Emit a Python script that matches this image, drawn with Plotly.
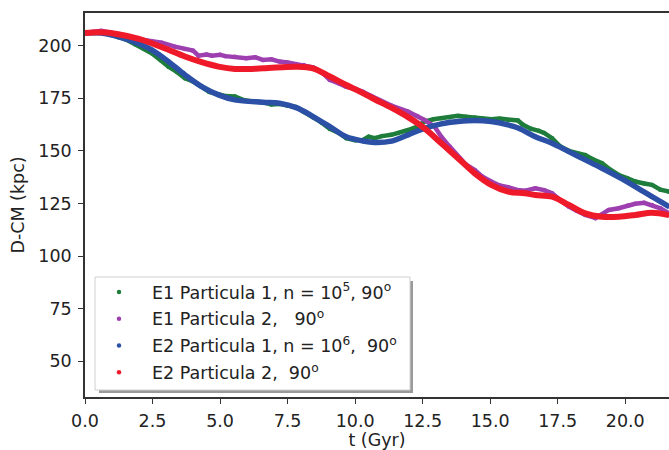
import plotly.graph_objects as go

# ---- data ----
t_e1p1 = [0, 0.4, 0.8, 1.23, 1.5, 1.85, 2.2, 2.47, 2.8, 3.09, 3.4, 3.7, 4.0, 4.32, 4.6, 4.94, 5.2, 5.55,
          5.9, 6.2, 6.59, 6.9, 7.2, 7.5, 7.82, 8.1, 8.44, 8.75, 9.06, 9.4, 9.67, 10.0, 10.29, 10.5, 10.72,
          11.0, 11.34, 11.6, 11.96, 12.3, 12.57, 12.9, 13.19, 13.5, 13.81, 14.1, 14.43, 14.7, 15.04, 15.35,
          15.66, 16.03, 16.2, 16.5, 16.8, 17.0, 17.29, 17.6, 17.91, 18.2, 18.52, 18.8, 19.14, 19.45, 19.76,
          20.07, 20.37, 20.7, 20.99, 21.3, 21.62]
d_e1p1 = [206.0, 206.5, 205.8, 204.0, 203.0, 200.7, 198.5, 196.4, 193.0, 190.0, 187.5, 184.5, 183.0, 180.5,
          178.0, 176.9, 176.0, 175.8, 174.0, 173.5, 173.0, 172.0, 172.3, 171.5, 170.8, 168.5, 166.0, 163.5,
          160.5, 158.5, 156.0, 155.0, 155.2, 156.7, 156.0, 157.0, 157.6, 158.5, 159.9, 161.5, 163.9, 165.0,
          165.5, 166.0, 166.6, 166.2, 165.8, 165.5, 165.0, 165.3, 164.7, 164.4, 162.5, 160.5, 159.5, 158.5,
          156.0, 152.0, 150.0, 148.8, 148.0, 146.0, 144.1, 141.0, 138.5, 137.0, 135.4, 134.5, 133.8, 131.5,
          130.6]

t_e1p2 = [0, 0.3, 0.6, 1.0, 1.5, 2.0, 2.47, 2.84, 3.33, 3.7, 4.0, 4.2, 4.5, 4.7, 5.0, 5.2, 5.55, 5.97, 6.3,
          6.59, 6.9, 7.2, 7.5, 7.82, 8.1, 8.44, 8.75, 9.06, 9.4, 9.67, 10.0, 10.29, 10.6, 10.9, 11.34, 11.96,
          12.3, 12.57, 12.94, 13.19, 13.5, 13.81, 14.1, 14.43, 14.7, 15.04, 15.35, 15.66, 16.0, 16.3, 16.67,
          17.0, 17.29, 17.6, 17.91, 18.2, 18.52, 18.9, 19.1, 19.39, 19.76, 20.1, 20.37, 20.7, 20.99, 21.3,
          21.62]
d_e1p2 = [206.0, 206.6, 207.0, 206.0, 204.8, 203.0, 201.9, 201.4, 199.5, 198.4, 197.6, 195.2, 195.8, 195.2,
          195.6, 195.0, 194.7, 194.0, 194.5, 193.2, 193.5, 192.4, 192.0, 191.2, 190.8, 189.7, 187.5, 183.7,
          182.0, 180.4, 179.5, 178.1, 176.0, 174.0, 171.5, 168.6, 166.5, 164.7, 161.5, 156.7, 152.0, 147.2,
          143.5, 140.9, 137.8, 135.4, 133.5, 132.7, 131.4, 131.0, 132.2, 131.3, 129.8, 126.5, 123.5, 121.5,
          119.5, 118.0, 119.5, 121.9, 122.7, 124.0, 124.8, 125.3, 124.3, 122.7, 120.3]

t_e2p1 = [0, 0.6, 1.23, 1.85, 2.47, 3.09, 3.7, 4.32, 4.94, 5.55, 6.59, 7.2, 7.82, 8.44, 9.06, 9.67, 10.29,
          10.72, 11.34, 11.96, 12.57, 13.19, 13.81, 14.43, 15.04, 15.66, 16.06, 16.67, 17.29, 17.91, 18.52,
          19.14, 19.76, 20.37, 20.99, 21.62]
d_e2p1 = [206.0, 206.0, 204.3, 201.6, 198.0, 192.4, 186.1, 180.5, 176.6, 174.2, 173.1, 172.6, 170.5, 166.3,
          161.5, 156.7, 154.7, 154.0, 154.6, 157.6, 160.7, 162.8, 163.9, 164.4, 163.9, 162.3, 160.7, 156.7,
          153.6, 149.6, 145.7, 141.7, 137.5, 133.0, 128.2, 123.5]

t_e2p2 = [0, 0.6, 1.23, 2.0, 2.47, 3.09, 3.7, 4.32, 4.94, 5.55, 6.59, 7.82, 8.44, 9.06, 9.67, 10.29, 10.72,
          11.34, 11.96, 12.57, 13.19, 13.81, 14.43, 15.04, 15.66, 16.28, 16.67, 17.29, 17.91, 18.52, 19.14,
          19.76, 20.37, 20.99, 21.62]
d_e2p2 = [206.0, 206.3, 205.4, 203.2, 201.1, 198.0, 194.8, 192.1, 190.0, 188.9, 189.2, 190.0, 189.2, 185.3,
          181.3, 177.4, 174.5, 170.5, 166.0, 160.7, 153.6, 146.5, 139.3, 133.8, 130.6, 129.8, 129.0, 128.2,
          124.3, 120.3, 118.7, 118.7, 119.5, 120.6, 119.5]

names = [
    "E1 Particula 1, n = 10<sup>5</sup>, 90<sup>o</sup>",
    "E1 Particula 2,\u00a0\u00a0 90<sup>o</sup>",
    "E2 Particula 1, n = 10<sup>6</sup>,\u00a0 90<sup>o</sup>",
    "E2 Particula 2,\u00a0 90<sup>o</sup>",
]
series_t = [t_e1p1, t_e1p2, t_e2p1, t_e2p2]
series_d = [d_e1p1, d_e1p2, d_e2p1, d_e2p2]
colors = ["#1f7d3c", "#9e3fb0", "#2b50a6", "#ee1a2a"]
widths = [4.5, 4.5, 5.5, 6]
shapes_ = ["linear", "linear", "spline", "spline"]

x_ticks = [0, 2.5, 5, 7.5, 10, 12.5, 15, 17.5, 20]
y_ticks = [50, 75, 100, 125, 150, 175, 200]

fig = go.Figure()
for i in range(4):
    g = "g%d" % i
    fig.add_trace(go.Scatter(x=series_t[i], y=series_d[i], mode="lines",
                             line=dict(color=colors[i], width=widths[i], shape=shapes_[i]),
                             legendgroup=g, showlegend=False, hoverinfo="skip"))
    fig.add_trace(go.Scatter(x=series_t[i], y=series_d[i], mode="markers",
                             marker=dict(color=colors[i], size=4.5),
                             legendgroup=g, name=names[i], showlegend=True))

axis_col = "#333333"
font_col = "#222222"

def px_to_paper_x(px):
    return (px - 85) / 584.0

def px_to_paper_y(py):
    return (397 - py) / 384.0

# legend frame with shadow (matplotlib-style)
fig.add_shape(type="rect", xref="paper", yref="paper",
              x0=px_to_paper_x(99), x1=px_to_paper_x(413), y0=px_to_paper_y(393), y1=px_to_paper_y(281),
              fillcolor="#9a9a9a", line=dict(width=0), layer="above")
fig.add_shape(type="rect", xref="paper", yref="paper",
              x0=px_to_paper_x(95), x1=px_to_paper_x(410), y0=px_to_paper_y(390), y1=px_to_paper_y(277),
              fillcolor="white", line=dict(color="#d0d0d0", width=1), layer="above")

fig.update_layout(
    width=669, height=450,
    margin=dict(l=85, r=0, t=13, b=53),
    paper_bgcolor="white", plot_bgcolor="white",
    font=dict(family="DejaVu Sans", size=17, color=font_col),
    showlegend=True,
    legend=dict(x=px_to_paper_x(86), y=px_to_paper_y(274), xanchor="left", yanchor="top",
                bgcolor="rgba(0,0,0,0)", borderwidth=0, font=dict(size=17.5, color=font_col),
                itemwidth=56, traceorder="grouped", tracegroupgap=1),
    xaxis=dict(range=[0, 21.62], tickvals=x_ticks, ticktext=["%.1f" % v for v in x_ticks],
               showgrid=False, zeroline=False, showline=True, linecolor=axis_col, linewidth=1.6,
               mirror=True, ticks="outside", ticklen=5, tickwidth=1.4, tickcolor=axis_col,
               tickfont=dict(size=17.5, color=font_col), ticklabelstandoff=2, automargin=False,
               title=dict(text="t (Gyr)", font=dict(size=17.5, color=font_col), standoff=10)),
    yaxis=dict(range=[33, 215.5], tickvals=y_ticks, ticktext=[str(v) for v in y_ticks],
               showgrid=False, zeroline=False, showline=True, linecolor=axis_col, linewidth=1.6,
               mirror=False, ticks="outside", ticklen=5, tickwidth=1.4, tickcolor=axis_col,
               tickfont=dict(size=17.5, color=font_col), ticklabelstandoff=3, automargin=False,
               title=dict(text="D-CM (kpc)", font=dict(size=17.5, color=font_col), standoff=9)),
)

fig.write_html("out.html")
